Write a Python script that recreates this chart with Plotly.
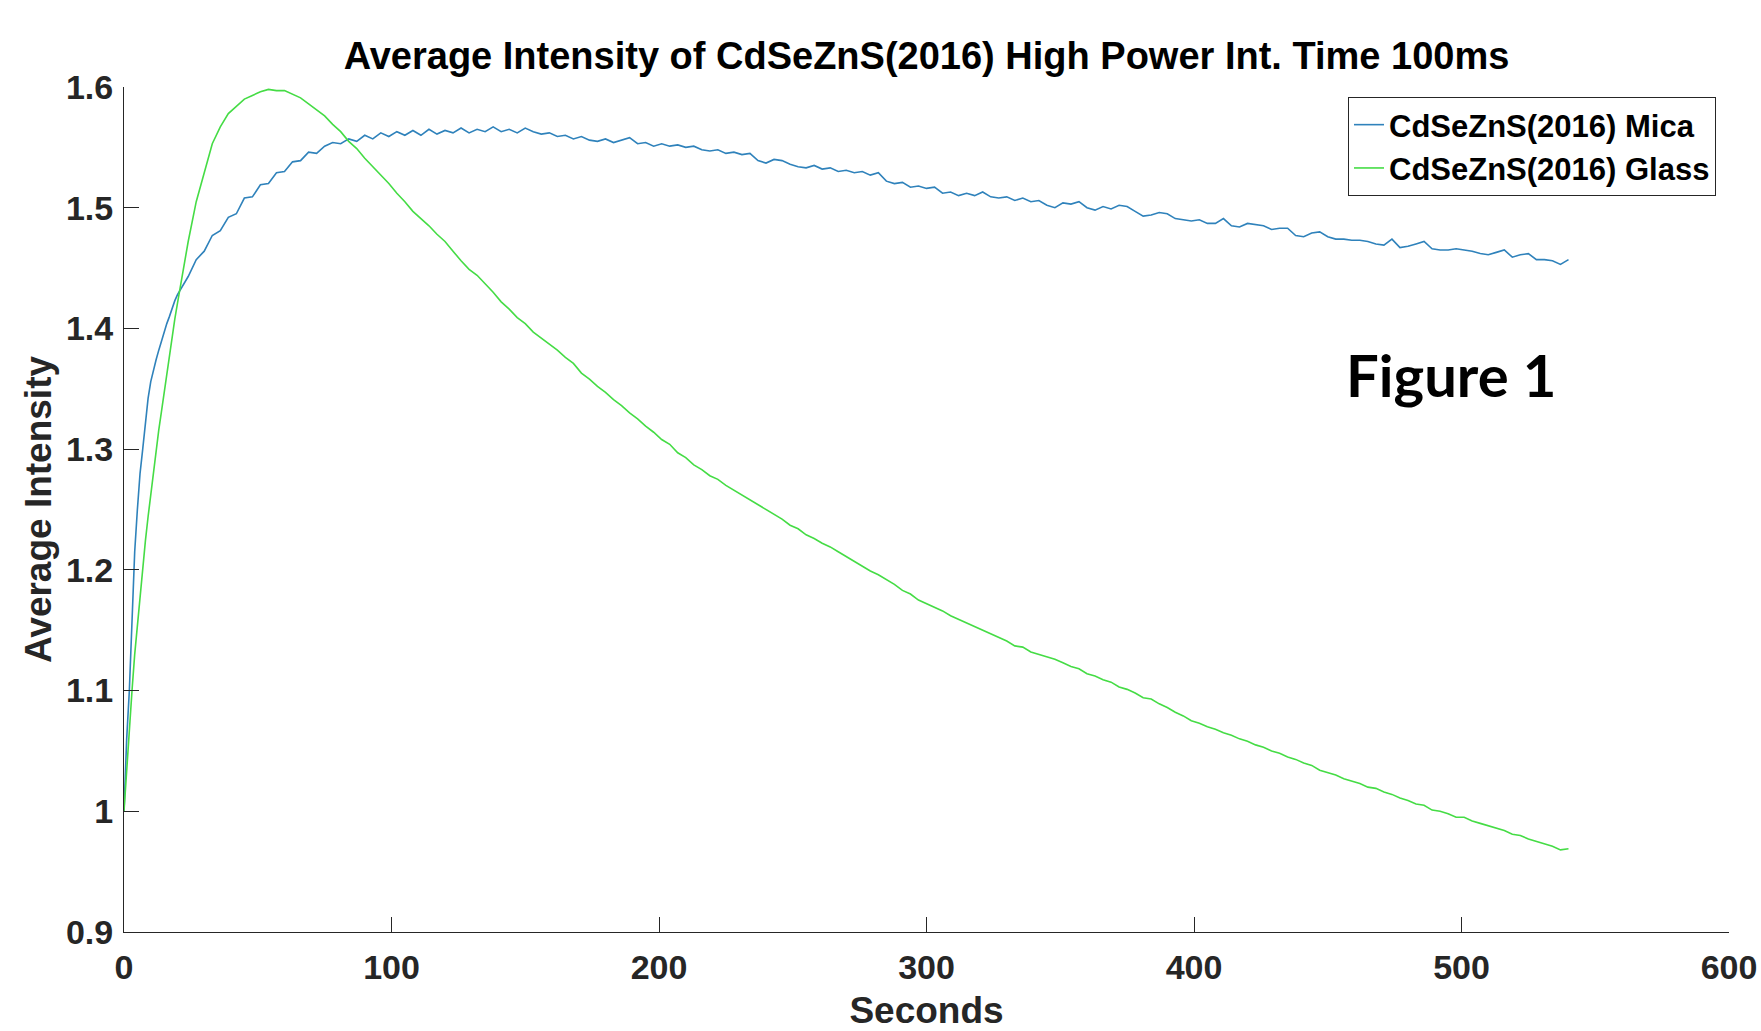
import plotly.graph_objects as go

# ---- data ----
seconds = list(range(0, 21)) + list(range(21, 541, 3))

mica = [
    1.000, 1.060, 1.100, 1.165, 1.215, 1.250, 1.280, 1.300, 1.322, 1.342, 1.356,
    1.366, 1.374, 1.382, 1.390, 1.398, 1.404, 1.410, 1.417, 1.423, 1.428,
    # 21 .. 540 step 3
    1.432, 1.443, 1.457, 1.464, 1.477, 1.481, 1.492, 1.495, 1.508, 1.509,
    1.519, 1.520, 1.529, 1.530, 1.538, 1.539, 1.546, 1.545, 1.551, 1.554,
    1.553, 1.557, 1.555, 1.560, 1.557, 1.562, 1.559, 1.563, 1.560, 1.564,
    1.560, 1.565, 1.561, 1.564, 1.562, 1.566, 1.562, 1.565, 1.563, 1.567,
    1.563, 1.565, 1.562, 1.566, 1.563, 1.561, 1.562, 1.559, 1.560, 1.557,
    1.559, 1.556, 1.555, 1.557, 1.554, 1.556, 1.558, 1.553, 1.554, 1.551,
    1.553, 1.551, 1.552, 1.550, 1.551, 1.548, 1.547, 1.548, 1.545, 1.546,
    1.544, 1.545, 1.539, 1.537, 1.540, 1.539, 1.536, 1.534, 1.533, 1.535,
    1.532, 1.533, 1.530, 1.531, 1.529, 1.530, 1.527, 1.529, 1.522, 1.520,
    1.521, 1.517, 1.518, 1.516, 1.517, 1.512, 1.513, 1.510, 1.512, 1.510,
    1.513, 1.509, 1.508, 1.509, 1.506, 1.508, 1.505, 1.506, 1.502, 1.500,
    1.504, 1.503, 1.505, 1.500, 1.498, 1.501, 1.499, 1.502, 1.501, 1.497,
    1.493, 1.494, 1.496, 1.495, 1.491, 1.490, 1.489, 1.490, 1.487, 1.487,
    1.491, 1.485, 1.484, 1.487, 1.486, 1.485, 1.482, 1.483, 1.483, 1.477,
    1.476, 1.479, 1.480, 1.476, 1.474, 1.474, 1.473, 1.473, 1.472, 1.470,
    1.469, 1.474, 1.467, 1.468, 1.470, 1.472, 1.466, 1.465, 1.465, 1.466,
    1.465, 1.464, 1.462, 1.461, 1.463, 1.465, 1.459, 1.461, 1.462, 1.457,
    1.457, 1.456, 1.453, 1.457,
]

glass = [
    1.000, 1.035, 1.070, 1.100, 1.130, 1.155, 1.180, 1.203, 1.224, 1.244, 1.263,
    1.282, 1.300, 1.316, 1.331, 1.347, 1.363, 1.379, 1.394, 1.408, 1.421,
    # 21 .. 540 step 3
    1.434, 1.472, 1.505, 1.530, 1.553, 1.567, 1.578, 1.584, 1.590, 1.593,
    1.596, 1.598, 1.597, 1.597, 1.594, 1.591, 1.586, 1.581, 1.576, 1.569,
    1.563, 1.555, 1.549, 1.541, 1.534, 1.527, 1.520, 1.512, 1.505, 1.497,
    1.491, 1.485, 1.478, 1.472, 1.464, 1.456, 1.449, 1.444, 1.437, 1.430,
    1.422, 1.416, 1.409, 1.404, 1.397, 1.392, 1.387, 1.382, 1.376, 1.371,
    1.363, 1.358, 1.352, 1.347, 1.341, 1.336, 1.330, 1.325, 1.319, 1.314,
    1.308, 1.304, 1.297, 1.293, 1.287, 1.283, 1.278, 1.275, 1.270, 1.266,
    1.262, 1.258, 1.254, 1.250, 1.246, 1.242, 1.237, 1.234, 1.229, 1.226,
    1.222, 1.219, 1.215, 1.211, 1.207, 1.203, 1.199, 1.196, 1.192, 1.188,
    1.183, 1.180, 1.175, 1.172, 1.169, 1.166, 1.162, 1.159, 1.156, 1.153,
    1.150, 1.147, 1.144, 1.141, 1.137, 1.136, 1.132, 1.130, 1.128, 1.126,
    1.123, 1.120, 1.118, 1.114, 1.112, 1.109, 1.107, 1.103, 1.101, 1.098,
    1.094, 1.093, 1.089, 1.086, 1.082, 1.079, 1.075, 1.073, 1.070, 1.068,
    1.065, 1.063, 1.060, 1.058, 1.055, 1.053, 1.050, 1.048, 1.045, 1.043,
    1.040, 1.038, 1.034, 1.032, 1.030, 1.027, 1.025, 1.023, 1.020, 1.019,
    1.016, 1.014, 1.011, 1.009, 1.006, 1.005, 1.001, 1.000, 0.998, 0.995,
    0.995, 0.992, 0.990, 0.988, 0.986, 0.984, 0.981, 0.980, 0.977, 0.975,
    0.973, 0.971, 0.968, 0.969,
]

series_names = ["CdSeZnS(2016) Mica", "CdSeZnS(2016) Glass"]
x_ticks = [0, 100, 200, 300, 400, 500, 600]
y_ticks = [0.9, 1.0, 1.1, 1.2, 1.3, 1.4, 1.5, 1.6]
y_tick_text = ["0.9", "1", "1.1", "1.2", "1.3", "1.4", "1.5", "1.6"]

FONT = "Liberation Sans, Arial, Helvetica, sans-serif"
AX = "#262626"

W, H = 1761, 1031
pl, pr, pt, pb = 124, W - 32, 87, H - 99

fig = go.Figure()
fig.add_trace(go.Scatter(x=seconds, y=mica, mode="lines", name=f"<b>{series_names[0]}</b>",
                         line=dict(color="#2F82BB", width=1.6)))
fig.add_trace(go.Scatter(x=seconds, y=glass, mode="lines", name=f"<b>{series_names[1]}</b>",
                         line=dict(color="#45DC45", width=1.6)))

fig.update_layout(
    width=W, height=H,
    margin=dict(l=pl, r=W - pr, t=pt, b=H - pb, autoexpand=False),
    paper_bgcolor="white", plot_bgcolor="white",
    font=dict(family=FONT, color=AX),
    title=dict(text="<b>Average Intensity of CdSeZnS(2016) High Power Int. Time 100ms</b>",
               font=dict(size=38, color="black", family=FONT),
               x=0.5, xref="paper", xanchor="center",
               y=1 - 56 / H, yref="container", yanchor="middle"),
    showlegend=True,
    legend=dict(x=(1716 - pl) / (pr - pl), y=(pb - 97) / (pb - pt),
                xanchor="right", yanchor="top",
                bgcolor="white", bordercolor=AX, borderwidth=1,
                font=dict(size=31, color="black", family=FONT),
                itemwidth=30, tracegroupgap=0),
    xaxis=dict(range=[0, 600], tickvals=x_ticks, ticktext=[f"<b>{v}</b>" for v in x_ticks],
               showline=True, linecolor=AX, linewidth=1, mirror=False,
               ticks="inside", ticklen=15, tickcolor=AX, tickwidth=1,
               showgrid=False, zeroline=False,
               tickfont=dict(size=34, color=AX, family=FONT), ticklabelstandoff=5,
               title=dict(text="<b>Seconds</b>", font=dict(size=37, color=AX, family=FONT),
                          standoff=24)),
    yaxis=dict(range=[0.9, 1.6], tickvals=y_ticks, ticktext=[f"<b>{t}</b>" for t in y_tick_text],
               showline=True, linecolor=AX, linewidth=1, mirror=False,
               ticks="inside", ticklen=15, tickcolor=AX, tickwidth=1,
               showgrid=False, zeroline=False,
               tickfont=dict(size=34, color=AX, family=FONT), ticklabelstandoff=3,
               title=dict(text="<b>Average Intensity</b>", font=dict(size=37, color=AX, family=FONT),
                          standoff=2)),
    annotations=[dict(text="<b>Figure 1</b>",
                      x=(1451 - pl) / (pr - pl), y=(pb - 374) / (pb - pt),
                      xref="paper", yref="paper", showarrow=False,
                      font=dict(size=58, color="black", family="Lato, Carlito, Calibri, sans-serif"),
                      xanchor="center", yanchor="middle")],
)

fig.write_html("out.html",
               config={"displayModeBar": False},
               post_script="document.body.style.margin='0';document.body.style.overflow='hidden';")
